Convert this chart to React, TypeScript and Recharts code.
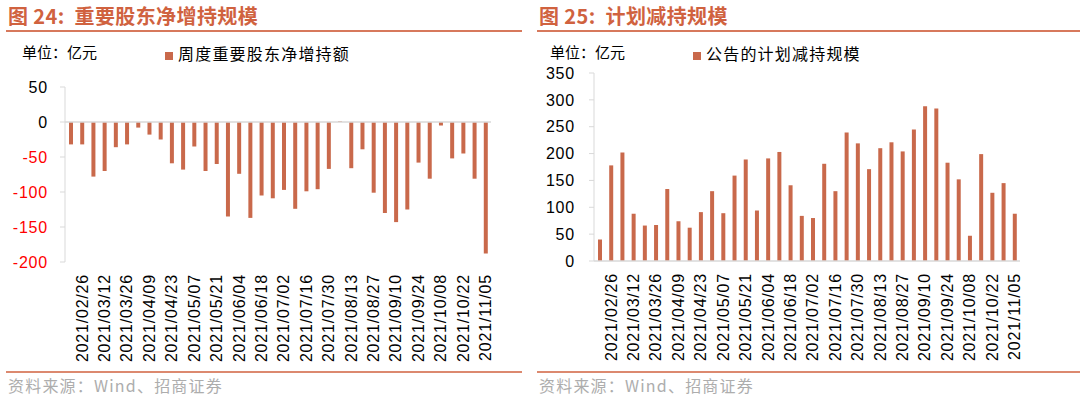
import { BarChart, Bar, XAxis, YAxis, ReferenceLine, Legend } from 'recharts'

const weeks = [
  '2021/02/19', '2021/02/26', '2021/03/05', '2021/03/12', '2021/03/19', '2021/03/26', '2021/04/02', '2021/04/09',
  '2021/04/16', '2021/04/23', '2021/04/30', '2021/05/07', '2021/05/14', '2021/05/21', '2021/05/28', '2021/06/04',
  '2021/06/11', '2021/06/18', '2021/06/25', '2021/07/02', '2021/07/09', '2021/07/16', '2021/07/23', '2021/07/30',
  '2021/08/06', '2021/08/13', '2021/08/20', '2021/08/27', '2021/09/03', '2021/09/10', '2021/09/17', '2021/09/24',
  '2021/10/01', '2021/10/08', '2021/10/15', '2021/10/22', '2021/10/29', '2021/11/05',
]

const netIncrease = [
  -32, -32, -78, -70, -36, -32, -8, -18, -25, -59, -68, -35, -70, -60, -135, -74, -137, -105, -109,
  -97, -124, -99, -96, -67, 1, -66, -39, -101, -130, -143, -125, -58, -81, -5, -52, -45, -81, -188,
]

const planReduce = [
  40, 178, 202, 88, 66, 67, 134, 74, 62, 91, 130, 89, 159, 189, 94, 191, 203, 141, 84,
  80, 181, 130, 239, 219, 171, 210, 221, 204, 245, 288, 284, 183, 152, 47, 199, 127, 145, 88,
]

const leftTicks = [50, 0, -50, -100, -150, -200]
const rightTicks = [0, 50, 100, 150, 200, 250, 300, 350]

const leftData = weeks.map((w, i) => ({ week: w, '周度重要股东净增持额': netIncrease[i] }))
const rightData = weeks.map((w, i) => ({ week: w, '公告的计划减持规模': planReduce[i] }))

const BAR = '#C9694B'
const ACCENT = '#D0623F'
const AXIS = '#D9D9D9'
const NUM_FONT = 'Arial, "Liberation Sans", sans-serif'
const CJK_FONT = '"Noto Sans CJK SC", sans-serif'
const LEGEND_H = 22

const DateTick = (props: any) => {
  const { x, y, index, payload } = props
  if (index % 2 !== 1) return <g />
  return (
    <text
      x={x}
      y={y}
      transform={`rotate(-90, ${x}, ${y})`}
      textAnchor="end"
      dy="0.36em"
      fontSize={16}
      letterSpacing={0.8}
      fontFamily={NUM_FONT}
      fill="#000"
    >
      {payload.value}
    </text>
  )
}

const ValueTick = (props: any) => {
  const { x, y, payload } = props
  return (
    <text x={x} y={y} dy="0.36em" textAnchor="end" fontSize={16} letterSpacing={0.8}
      fontFamily={NUM_FONT} fill={payload.value < 0 ? '#FF0000' : '#000'}>
      {payload.value}
    </text>
  )
}

const LegendText = (value: string) => (
  <span style={{ color: '#000', fontSize: 16, fontFamily: CJK_FONT, marginLeft: 1, letterSpacing: 1.2 }}>{value}</span>
)

function Panel({ left, title, captionX, lineW }: { left: number; title: string; captionX: number; lineW: number }) {
  return (
    <>
      <div style={{ position: 'absolute', left: left + 8, top: 3, fontSize: 20, fontWeight: 'bold', color: ACCENT, fontFamily: CJK_FONT, whiteSpace: 'pre', lineHeight: '26px', letterSpacing: 0.4 }}>
        {title}
      </div>
      <div style={{ position: 'absolute', left: left + 6, top: 30, width: lineW, height: 2, background: ACCENT, opacity: 0.85 }} />
      <div style={{ position: 'absolute', left: captionX, top: 42, fontSize: 15, color: '#000', fontFamily: CJK_FONT, lineHeight: '20px' }}>
        单位：亿元
      </div>
      <div style={{ position: 'absolute', left: left + 6, top: 371, width: lineW, height: 2, background: ACCENT, opacity: 0.75 }} />
      <div style={{ position: 'absolute', left: left + 8, top: 375, fontSize: 16, color: '#ADADAD', fontFamily: CJK_FONT, lineHeight: '20px', letterSpacing: 1.2 }}>
        资料来源：Wind、招商证券
      </div>
    </>
  )
}

export default function App() {
  return (
    <div style={{ position: 'absolute', left: 0, top: 0, width: 1080, height: 398, background: '#fff', overflow: 'hidden' }}>
      <Panel left={0} title={'图 24:  重要股东净增持规模'} captionX={22} lineW={516} />
      <Panel left={531} title={'图 25:  计划减持规模'} captionX={550} lineW={549} />

      <div style={{ position: 'absolute', left: 0, top: 0 }}>
        <BarChart width={540} height={398} data={leftData} margin={{ top: 87 - LEGEND_H, right: 49, left: 0, bottom: 35 }}>
          <YAxis
            type="number"
            domain={[-200, 50]}
            ticks={leftTicks}
            width={65}
            interval={0}
            axisLine={{ stroke: AXIS }}
            tickLine={{ stroke: AXIS }}
            tickSize={5}
            tickMargin={12}
            tick={<ValueTick />}
          />
          <XAxis dataKey="week" height={101} interval={0} axisLine={false} tickLine={false} tickSize={0} tickMargin={12} tick={<DateTick />} />
          <ReferenceLine y={0} stroke={AXIS} strokeWidth={1.5} />
          <Legend
            verticalAlign="top"
            align="left"
            iconType="square"
            iconSize={8}
            formatter={LegendText}
            wrapperStyle={{ position: 'absolute', top: 41, left: 165, width: 260, height: LEGEND_H, textAlign: 'left' }}
          />
          <Bar dataKey="周度重要股东净增持额" fill={BAR} barSize={4} isAnimationActive={false} />
        </BarChart>
      </div>

      <div style={{ position: 'absolute', left: 540, top: 0 }}>
        <BarChart width={540} height={398} data={rightData} margin={{ top: 73 - LEGEND_H, right: 60, left: 0, bottom: 35 }}>
          <YAxis
            type="number"
            domain={[0, 350]}
            ticks={rightTicks}
            width={54}
            interval={0}
            axisLine={{ stroke: AXIS }}
            tickLine={{ stroke: AXIS }}
            tickSize={5}
            tickMargin={14}
            tick={<ValueTick />}
          />
          <XAxis dataKey="week" height={102} interval={0} axisLine={{ stroke: AXIS, strokeWidth: 1.5 }} tickLine={false} tickSize={0} tickMargin={12} tick={<DateTick />} />
          <Legend
            verticalAlign="top"
            align="left"
            iconType="square"
            iconSize={8}
            formatter={LegendText}
            wrapperStyle={{ position: 'absolute', top: 41, left: 153, width: 260, height: LEGEND_H, textAlign: 'left' }}
          />
          <Bar dataKey="公告的计划减持规模" fill={BAR} barSize={4} isAnimationActive={false} />
        </BarChart>
      </div>
    </div>
  )
}
